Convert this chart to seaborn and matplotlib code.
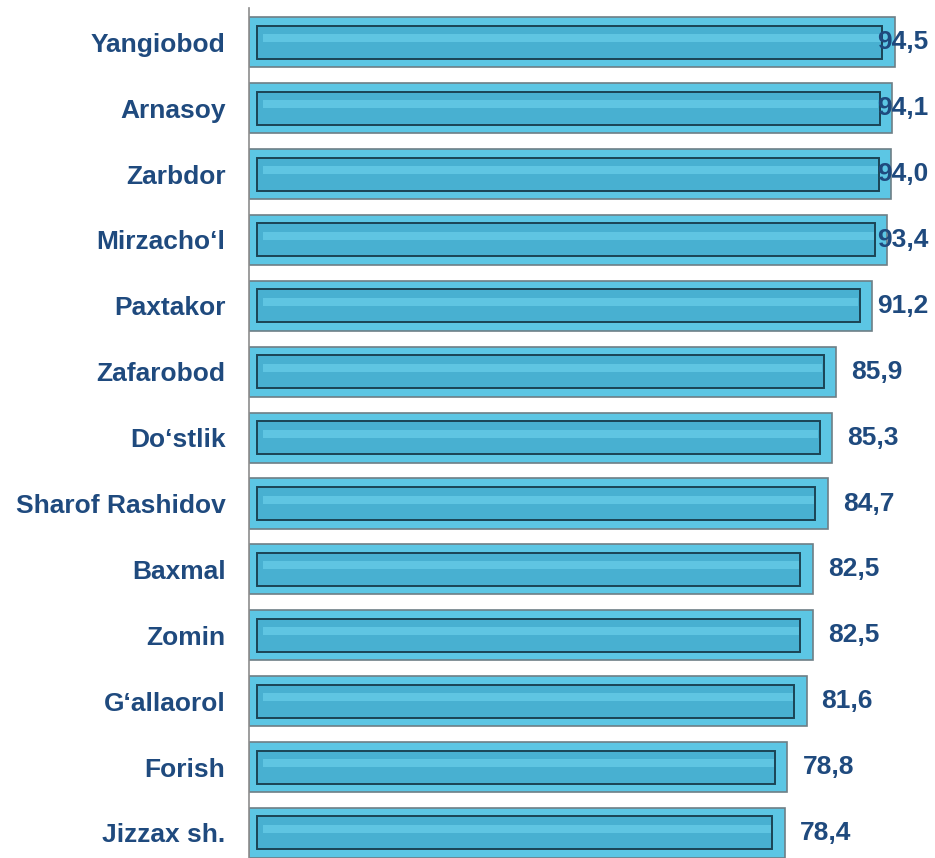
import matplotlib
matplotlib.use("Agg")
import matplotlib.pyplot as plt
import seaborn as sns
import pandas as pd
import numpy as np

districts = ["Yangiobod", "Arnasoy", "Zarbdor", "Mirzacho‘l", "Paxtakor", "Zafarobod",
             "Do‘stlik", "Sharof Rashidov", "Baxmal", "Zomin", "G‘allaorol", "Forish", "Jizzax sh."]
values = [94.5, 94.1, 94.0, 93.4, 91.2, 85.9, 85.3, 84.7, 82.5, 82.5, 81.6, 78.8, 78.4]
value_labels = ["94,5", "94,1", "94,0", "93,4", "91,2", "85,9", "85,3", "84,7",
                "82,5", "82,5", "81,6", "78,8", "78,4"]

sns.set_theme(style="white")
plt.rcParams['font.family'] = ['Liberation Sans', 'DejaVu Sans']

df = pd.DataFrame({"district": districts, "value": values})

fig = plt.figure(figsize=(9.35, 8.58), dpi=100)
ax = fig.add_axes([249/935, 0, 1 - 249/935, 850/858])

text_color = "#1F4A7E"
# outer bevel bar
sns.barplot(data=df, y="district", x="value", orient="h", ax=ax, color="#5CC6E4",
            width=0.76, edgecolor="#6E7F86", linewidth=1.2, saturation=1)
# inner panel
n = len(values)
ypos = np.arange(n)
inner_left = 1.1
ax.barh(ypos, np.array(values) - inner_left - 1.8, left=inner_left, height=0.5,
        color="#48B0D1", edgecolor="#1B4455", linewidth=1.4, zorder=3)
# highlight band
ax.barh(ypos - 0.06, np.array(values) - inner_left - 3.0, left=inner_left + 1.0, height=0.12,
        color="#70D4EE", linewidth=0, zorder=4, alpha=0.6)

for i, (v, lab) in enumerate(zip(values, value_labels)):
    ax.text(min(v + 2.2, 92.0), i, lab, ha="left", va="center", fontsize=19,
            fontweight="bold", color=text_color, zorder=6)

ax.set_xlim(0, 100.4)
ax.set_ylim(12.38, -0.52)
ax.set_xlabel("")
ax.set_ylabel("")
ax.set_xticks([])
ax.tick_params(axis="y", length=0, pad=17)
for t in ax.get_yticklabels():
    t.set_fontsize(19)
    t.set_fontweight("bold")
    t.set_color(text_color)
for s in ["top", "right", "bottom"]:
    ax.spines[s].set_visible(False)
ax.spines["left"].set_color("#8C8C8C")
ax.spines["left"].set_linewidth(1.2)

fig.savefig("out.png", dpi=100)
